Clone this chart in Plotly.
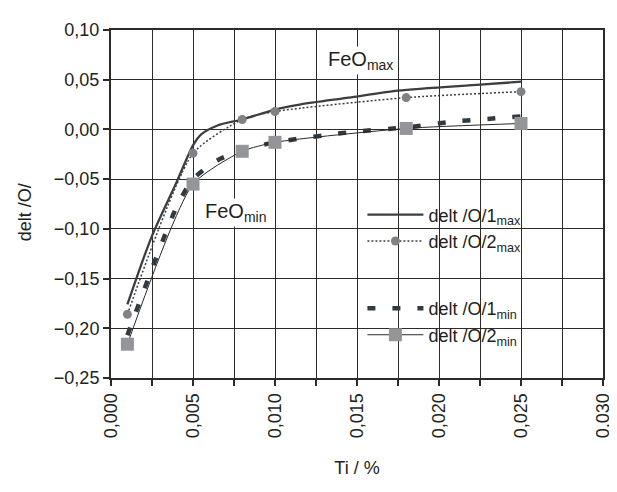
import plotly.graph_objects as go

# ---- data ----
x_points = [0.001, 0.005, 0.008, 0.010, 0.018, 0.025]
max2_vals = [-0.186, -0.024, 0.010, 0.018, 0.032, 0.038]
min2_vals = [-0.216, -0.055, -0.022, -0.013, 0.001, 0.006]

max1_x = [0.001, 0.0025, 0.004, 0.005, 0.0055, 0.0065, 0.008,
          0.010, 0.0115, 0.0145, 0.0175, 0.0225, 0.025]
max1_vals = [-0.176, -0.107, -0.053, -0.016, -0.005, 0.004, 0.010,
             0.020, 0.025, 0.032, 0.039, 0.045, 0.048]

min1_x = [0.001, 0.0025, 0.004, 0.005, 0.0065, 0.008, 0.010, 0.013, 0.015,
          0.018, 0.021, 0.025]
min1_vals = [-0.207, -0.140, -0.078, -0.050, -0.031, -0.021, -0.013, -0.006, -0.002,
             0.002, 0.008, 0.013]

series_names = ["delt /O/1<sub>max</sub>", "delt /O/2<sub>max</sub>",
                "delt /O/1<sub>min</sub>", "delt /O/2<sub>min</sub>"]

x_range = [0, 0.030]
y_range = [-0.25, 0.10]

FONT = "Liberation Sans, Arial, Helvetica, sans-serif"
TXT = "#231f20"
GRID = "#2e2a28"
FS = 18

fig = go.Figure()

fig.add_trace(go.Scatter(
    x=max1_x, y=max1_vals, mode="lines", name=series_names[0],
    legendgroup="max",
    line=dict(color="#3b3e42", width=2.3, shape="spline", smoothing=0.8)))

fig.add_trace(go.Scatter(
    x=x_points, y=max2_vals, mode="lines+markers", name=series_names[1],
    legendgroup="max",
    line=dict(color="#3b3e42", width=1.5, dash="2px,2px", shape="spline", smoothing=0.6),
    marker=dict(symbol="circle", size=9, color="#808285")))

fig.add_trace(go.Scatter(
    x=min1_x, y=min1_vals, mode="lines", name=series_names[2],
    legendgroup="min",
    line=dict(color="#313a40", width=4.5, dash="8px,17px", shape="spline", smoothing=0.7)))

fig.add_trace(go.Scatter(
    x=x_points, y=min2_vals, mode="lines+markers", name=series_names[3],
    legendgroup="min",
    line=dict(color="#2a2a2a", width=1, shape="spline", smoothing=0.6),
    marker=dict(symbol="square", size=13, color="#939598")))

fig.add_annotation(x=0.0131, y=0.0695, xref="x", yref="y", text="FeO<sub>max</sub>",
                   showarrow=False, bgcolor="white", xanchor="left",
                   font=dict(family=FONT, size=20, color=TXT))
fig.add_annotation(x=0.0056, y=-0.084, xref="x", yref="y", text="FeO<sub>min</sub>",
                   showarrow=False, bgcolor="white", xanchor="left",
                   font=dict(family=FONT, size=20, color=TXT))
# y-axis title (placed slightly below the axis centre, as in the reference)
fig.add_annotation(x=-0.175, y=0.476, xref="paper", yref="paper", text="delt /O/",
                   showarrow=False, textangle=-90, xanchor="center", yanchor="middle",
                   font=dict(family=FONT, size=FS, color=TXT))

fig.update_layout(
    width=617, height=492,
    margin=dict(l=103, r=19, t=14, b=122),
    paper_bgcolor="white", plot_bgcolor="white",
    separators=", ",
    font=dict(family=FONT, size=FS, color=TXT),
    showlegend=True,
    legend=dict(x=0.511, y=0.522, xanchor="left", yanchor="top",
                bgcolor="rgba(0,0,0,0)", borderwidth=0,
                traceorder="grouped", tracegroupgap=41, itemwidth=56,
                font=dict(family=FONT, size=FS, color=TXT)),
)

fig.update_xaxes(
    range=x_range, dtick=0.005, tick0=0, tickformat=".3f", tickangle=-90,
    ticks="outside", ticklen=6, tickwidth=1.5, tickcolor=GRID,
    showgrid=True, gridcolor=GRID, gridwidth=1.3,
    minor=dict(dtick=0.0025, ticks="outside", ticklen=6, tickcolor=GRID,
               showgrid=True, gridcolor=GRID, gridwidth=1),
    showline=True, linecolor=GRID, linewidth=2, mirror=True,
    zeroline=False,
    title=dict(text="Ti / %", standoff=24, font=dict(family=FONT, size=FS, color=TXT)),
)
fig.update_yaxes(
    range=y_range, dtick=0.05, tick0=0, tickformat=".2f",
    ticks="outside", ticklen=6, tickwidth=1.5, tickcolor=GRID,
    showgrid=True, gridcolor=GRID, gridwidth=1.3,
    showline=True, linecolor=GRID, linewidth=2, mirror=True,
    zeroline=False,
)

fig.write_html("out.html")
